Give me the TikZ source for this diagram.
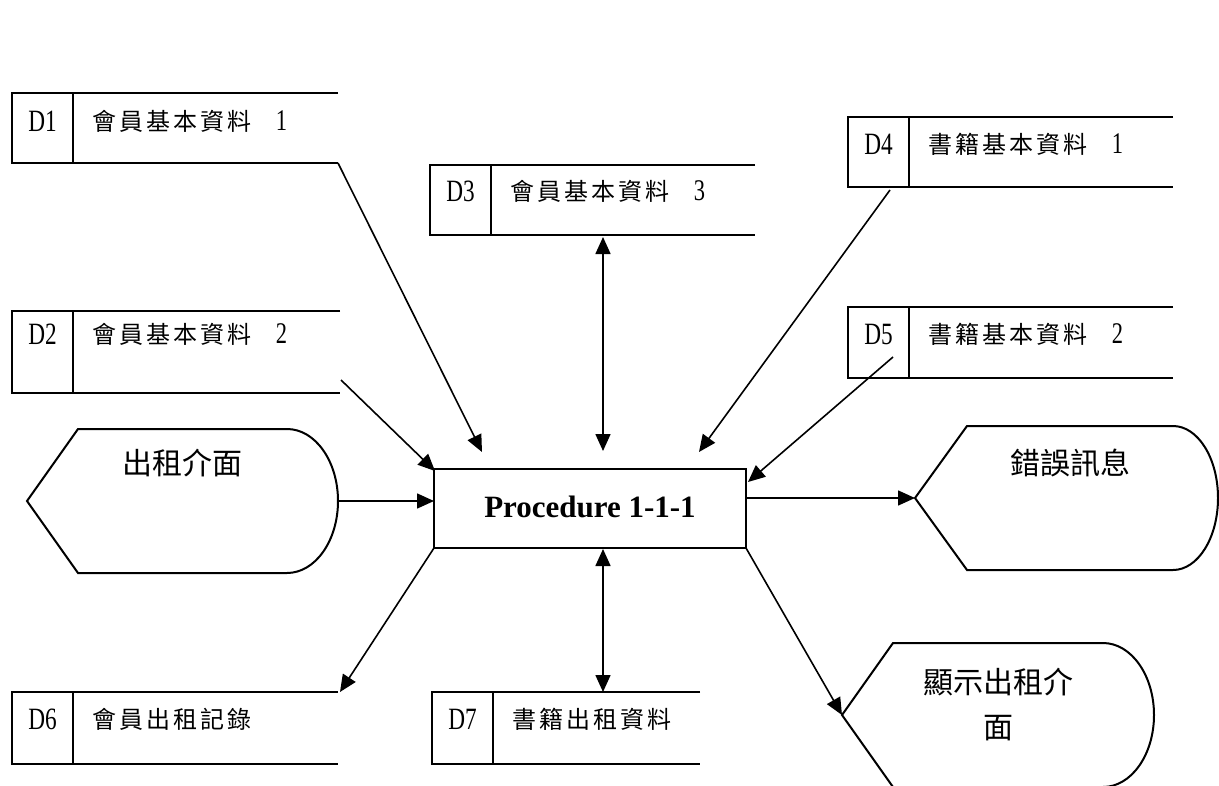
\documentclass[tikz,border=0pt]{standalone}
\usepackage{fontspec}
\setmainfont{Liberation Serif}
\newfontfamily\cjk{Noto Sans CJK TC}
\newfontfamily\cjkls{Noto Sans CJK TC}[LetterSpace=13]
\usetikzlibrary{arrows.meta}
\newcommand\dig[1]{{\fontsize{30}{30}\rmfamily\scalebox{0.75}[1]{#1}}}
% #1 name, #2 left, #3 top, #4 right, #5 bottom, #6 text y, #7 id, #8 label
\newcommand\dstore[8]{%
  \draw[box] (#4,#3) -- (#2,#3) -- (#2,#5) -- (#4,#5);
  \draw[box] (#2+61,#3) -- (#2+61,#5);
  \node[did] (#1id) at (#2+30.5,#6) {\scalebox{0.75}[1]{#7}};
  \node[dname] (#1) at (#2+80,#6) {#8};
}
\begin{document}
\begin{tikzpicture}[x=1pt,y=-1pt,
  box/.style={line width=2pt},
  flow/.style={line width=1.6pt,-{Triangle[length=17pt,width=15pt]}},
  bflow/.style={line width=1.6pt,{Triangle[length=17pt,width=15pt]}-{Triangle[length=17pt,width=15pt]}},
  did/.style={font=\fontsize{31}{31}\selectfont, inner sep=0pt},
  dname/.style={font=\fontsize{24}{24}\cjkls, anchor=west, inner sep=0pt},
  ename/.style={font=\fontsize{30}{45}\cjk, inner sep=0pt, align=center}]
\useasboundingbox (0,0) rectangle (1219,785);
\fill[white] (0,0) rectangle (1219,785);
\clip (0,0) rectangle (1219,785);

% data stores
\dstore{d1}{12}{93}{338}{163}{121}{D1}{會員基本資料\hspace{24pt}\dig{1}}
\dstore{d2}{12}{311}{340}{393}{334}{D2}{會員基本資料\hspace{24pt}\dig{2}}
\dstore{d3}{430}{165}{755}{235}{191}{D3}{會員基本資料\hspace{24pt}\dig{3}}
\dstore{d4}{848}{117}{1173}{187}{144}{D4}{書籍基本資料\hspace{24pt}\dig{1}}
\dstore{d5}{848}{307}{1173}{378}{334}{D5}{書籍基本資料\hspace{24pt}\dig{2}}
\dstore{d6}{12}{692}{338}{764}{719}{D6}{會員出租記錄}
\dstore{d7}{432}{692}{700}{764}{719}{D7}{書籍出租資料}

% process
\node[draw, line width=2pt, minimum width=312pt, minimum height=79pt, inner sep=0pt,
      font=\bfseries\fontsize{31}{31}\selectfont] (proc) at (590,508.5) {\raisebox{3pt}{Procedure 1-1-1}};

% display shapes
\draw[box] (27,501) -- (78,429) -- (287,429)
  .. controls (315.2,429) and (338,461.2) .. (338,501)
  .. controls (338,540.8) and (315.2,573) .. (287,573) -- (78,573) -- cycle;
\node[ename] (inui) at (182,463) {出租介面};
\draw[box] (915,498) -- (967,426) -- (1173,426)
  .. controls (1197.9,426) and (1218,458.2) .. (1218,498)
  .. controls (1218,537.8) and (1197.9,570) .. (1173,570) -- (967,570) -- cycle;
\node[ename] (errui) at (1070,463) {錯誤訊息};
\draw[box] (842,715) -- (893,643) -- (1103,643)
  .. controls (1131.2,643) and (1154,675.2) .. (1154,715)
  .. controls (1154,754.8) and (1131.2,787) .. (1103,787) -- (893,787) -- cycle;
\node[ename] (dispui) at (998,704) {顯示出租介\\面};

% connector end points
\coordinate (d1o) at (338,163);  \coordinate (d1i) at (482,452);
\coordinate (d2o) at (341,380);  \coordinate (d2i) at (435,471);
\coordinate (d3o) at (603,237);  \coordinate (d3i) at (603,451);
\coordinate (d4o) at (890,190);  \coordinate (d4i) at (699,452);
\coordinate (d5o) at (893,357);  \coordinate (d5i) at (748,482);
\coordinate (ino) at (338,501);  \coordinate (ini) at (434,501);
\coordinate (erro) at (746,498); \coordinate (erri) at (915,498);
\coordinate (d7o) at (603,549);  \coordinate (d7i) at (603,692);
\coordinate (d6o) at (434,548);  \coordinate (d6i) at (340,692);
\coordinate (dpo) at (746,548);  \coordinate (dpi) at (842,715);

\draw[flow] (d1o) -- (d1i);
\draw[flow] (d2o) -- (d2i);
\draw[bflow] (d3o) -- (d3i);
\draw[flow] (d4o) -- (d4i);
\draw[flow] (d5o) -- (d5i);
\draw[flow] (ino) -- (ini);
\draw[flow] (erro) -- (erri);
\draw[bflow] (d7o) -- (d7i);
\draw[flow] (d6o) -- (d6i);
\draw[flow] (dpo) -- (dpi);
\end{tikzpicture}
\end{document}
